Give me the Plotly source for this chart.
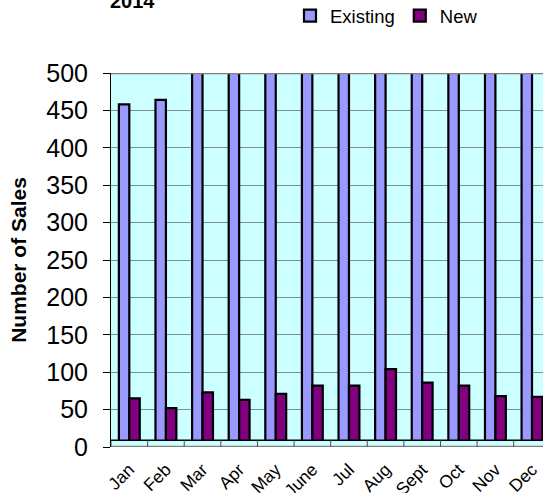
import plotly.graph_objects as go

months = ["Jan", "Feb", "Mar", "Apr", "May", "June", "Jul", "Aug", "Sept", "Oct", "Nov", "Dec"]
existing = [458, 464, 560, 590, 610, 640, 620, 660, 600, 580, 540, 530]
new = [65, 52, 73, 63, 71, 82, 82, 104, 86, 82, 68, 67]

fig = go.Figure()
fig.add_trace(go.Bar(x=months, y=existing, name="Existing",
                     marker=dict(color="#9999FF", line=dict(color="#000000", width=2.2))))
fig.add_trace(go.Bar(x=months, y=new, name="New",
                     marker=dict(color="#800080", line=dict(color="#000000", width=2.2))))

# floor cover (3D floor look)
fig.add_shape(type="rect", xref="x domain", yref="y", x0=0, x1=1, y0=0, y1=9,
              fillcolor="#CCFFFF", line=dict(width=0), layer="above")
fig.add_shape(type="line", xref="x domain", yref="y", x0=0, x1=1, y0=9, y1=9,
              line=dict(color="#000000", width=1.5), layer="above")
fig.add_shape(type="line", xref="x domain", yref="y", x0=0, x1=1, y0=0, y1=0,
              line=dict(color="#808080", width=2.5), layer="above")
for i in range(len(months)):
    fig.add_shape(type="line", xref="x", yref="y", x0=i - 0.5, x1=i - 0.5, y0=0, y1=9,
                  line=dict(color="#505050", width=1), layer="above")
fig.add_shape(type="line", xref="x domain", yref="y", x0=0, x1=1, y0=500, y1=500,
              line=dict(color="#808080", width=2.5), layer="above")

PLOT_L, PLOT_T, PLOT_W, PLOT_H = 111, 73, 432, 374
fig.add_annotation(text="<b>2014</b>", xref="paper", yref="paper",
                   x=(132 - PLOT_L) / PLOT_W, y=1 + (PLOT_T - 1) / PLOT_H,
                   xanchor="center", yanchor="middle", showarrow=False,
                   font=dict(size=20))

fig.update_layout(
    width=543, height=493,
    margin=dict(l=PLOT_L, r=0, t=PLOT_T, b=493 - PLOT_T - PLOT_H, autoexpand=False),
    paper_bgcolor="white", plot_bgcolor="#CCFFFF",
    font=dict(family="Arial, Liberation Sans, sans-serif", color="#000000"),
    barmode="group", bargap=0.43, bargroupgap=0,
    legend=dict(orientation="h", x=(290 - PLOT_L) / PLOT_W, y=1 + (PLOT_T + 3) / PLOT_H,
                xanchor="left", yanchor="top", font=dict(size=18.5), traceorder="normal",
                bgcolor="rgba(0,0,0,0)"),
    showlegend=True,
)
fig.update_xaxes(range=[-0.5, 11.3], tickangle=-45, tickfont=dict(size=17.5),
                 showgrid=False, showline=False, ticks="", automargin=False,
                 ticklabelstandoff=8)
fig.update_yaxes(range=[0, 500], dtick=50, tickfont=dict(size=25),
                 showgrid=True, gridcolor="#7F9090", gridwidth=1,
                 showline=True, linecolor="#000000", linewidth=1,
                 ticks="outside", ticklen=7, tickcolor="#000000", ticklabelstandoff=10,
                 title=dict(text="<b>Number of Sales</b>", font=dict(size=21), standoff=13),
                 zeroline=False, automargin=False)

fig.write_html("out.html", config={"displayModeBar": False},
               post_script="document.body.style.margin='0';document.body.style.overflow='hidden';")
